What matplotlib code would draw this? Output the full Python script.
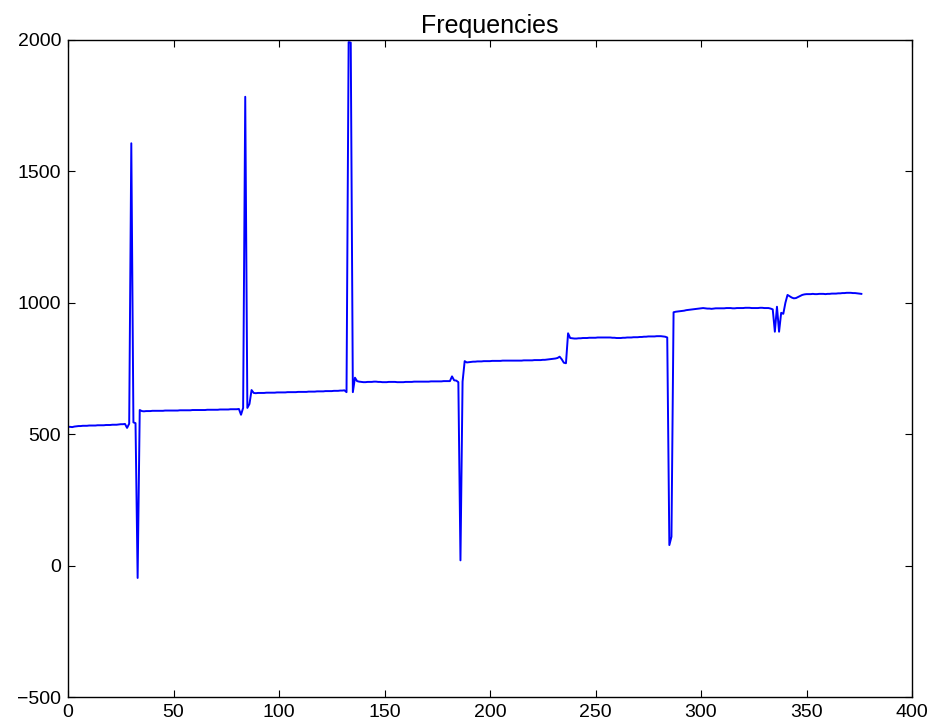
import matplotlib
matplotlib.use("Agg")
import matplotlib.pyplot as plt

# Frequency readings, one per sample index (0..376)
seg_a = [528, 528, 527, 529, 530, 531, 531, 532, 532, 532, 533, 533, 533, 533, 534,
         534, 534, 534, 535, 535, 535, 536, 536, 536, 537, 538, 538, 539]
spike_1 = [524, 540, 1607, 545, 542, -47, 592]
seg_b = [588, 587, 588, 588, 588, 589, 589, 589, 589, 589, 589, 590, 590, 590, 590,
         590, 590, 590, 591, 591, 591, 591, 591, 591, 592, 592, 592, 592, 592, 592,
         592, 593, 593, 593, 593, 593, 593, 594, 594, 594, 594, 594, 595, 595, 595,
         595, 596]
spike_2 = [574, 600, 1784, 600, 615, 668, 657]
seg_c = [656, 657, 657, 657, 657, 658, 658, 658, 658, 658, 659, 659, 659, 659, 659,
         660, 660, 660, 660, 660, 661, 661, 661, 661, 661, 662, 662, 662, 662, 663,
         663, 663, 663, 664, 664, 664, 664, 665, 665, 665, 666, 666, 667]
spike_3 = [660, 1992, 1990, 660, 715, 702]
seg_d = [700, 699, 698, 698, 699, 699, 699, 700, 700, 699, 699, 698, 698, 698, 699,
         699, 699, 699, 698, 698, 698, 698, 699, 699, 699, 699, 700, 700, 700, 700,
         700, 700, 700, 700, 701, 701, 701, 701, 701, 701, 702, 702, 702, 702]
dip_1 = [720, 705, 704, 698, 20, 700]
seg_e = [778, 773, 774, 775, 776, 776, 777, 777, 777, 778, 778, 778, 778, 779, 779,
         779, 779, 779, 780, 780, 780, 780, 780, 780, 780, 780, 780, 780, 781, 781,
         781, 781, 781, 782, 782, 782, 782, 783, 783, 784, 785, 786, 787, 788, 790]
step_1 = [795, 785, 772, 770, 884, 866]
seg_f = [865, 864, 864, 865, 865, 866, 866, 866, 867, 867, 867, 867, 868, 868, 868,
         868, 868, 868, 868, 867, 867, 866, 866, 866, 867, 867, 868, 868, 868, 869,
         869, 869, 870, 870, 871, 871, 872, 872, 872, 872, 873, 873, 873, 872, 871]
dip_2 = [868, 78, 110, 964]
seg_g = [966, 967, 968, 969, 970, 972, 973, 974, 975, 976, 977, 978, 979, 980, 979,
         978, 978, 977, 978, 979, 979, 979, 979, 979, 980, 980, 980, 979, 979, 980,
         980, 980, 980, 981, 981, 981, 980, 980, 980, 980, 981, 981, 980, 980, 980]
wobble = [978, 975, 890, 985, 890, 962, 958, 1000, 1030, 1025, 1020, 1017, 1018,
          1022, 1026, 1030, 1032]
seg_h = [1033, 1033, 1033, 1034, 1033, 1033, 1034, 1034, 1034, 1033, 1034, 1034,
         1035, 1035, 1035, 1036, 1036, 1037, 1037, 1038, 1038, 1038, 1037, 1037,
         1036, 1035, 1034]

frequencies = (seg_a + spike_1 + seg_b + spike_2 + seg_c + spike_3 + seg_d + dip_1
               + seg_e + step_1 + seg_f + dip_2 + seg_g + wobble + seg_h)
samples = list(range(len(frequencies)))

title = "Frequencies"
x_ticks = [0, 50, 100, 150, 200, 250, 300, 350, 400]
y_ticks = [-500, 0, 500, 1000, 1500, 2000]

plt.rcParams['font.family'] = ['Liberation Sans', 'DejaVu Sans']

fig = plt.figure(figsize=(9.33, 7.23), dpi=100, facecolor='white')
ax = fig.add_axes([68 / 933, 26 / 723, 844 / 933, 657 / 723])
ax.plot(samples, frequencies, color='#0000ff', linewidth=1.4)
ax.set_xlim(0, 400)
ax.set_ylim(-500, 2000)
ax.set_xticks(x_ticks)
ax.set_yticks(y_ticks)
ax.tick_params(direction='in', top=True, right=True, length=5, width=0.8,
               labelsize=14, pad=5)
for s in ax.spines.values():
    s.set_linewidth(1.0)
ax.set_title(title, fontsize=18, pad=5)

fig.savefig("out.png", dpi=100, facecolor='white')
